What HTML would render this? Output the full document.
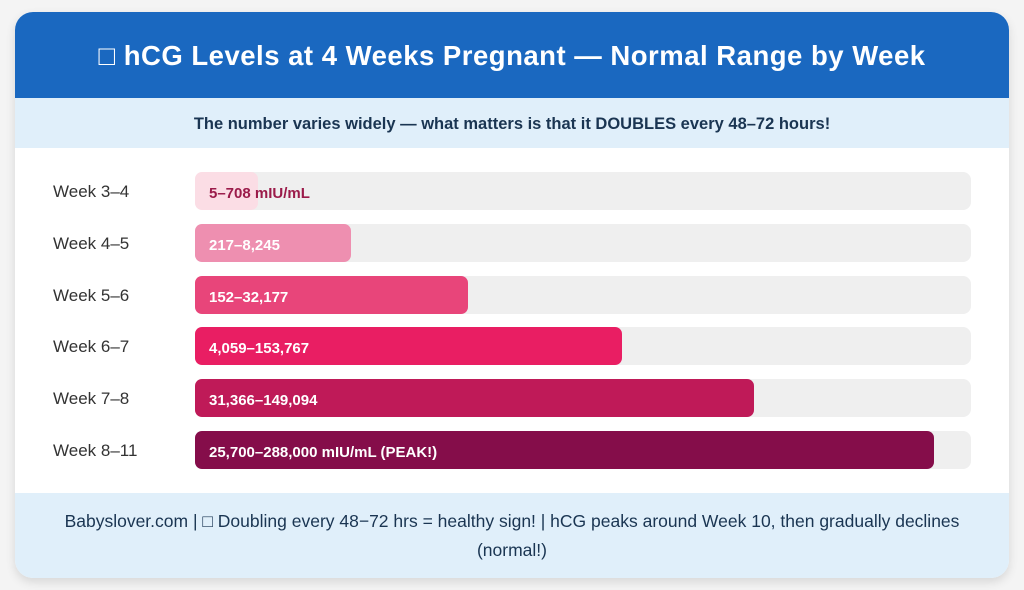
<!DOCTYPE html>
<html><head><meta charset="utf-8"><style>
body{margin:0;width:1024px;height:590px;background:#f4f4f4;font-family:"Liberation Sans",sans-serif;overflow:hidden}
#card{position:absolute;left:15px;top:12px;width:994px;height:566px;background:#fff;border-radius:18px;overflow:hidden;box-shadow:0 4px 10px rgba(0,0,0,.12)}
#hdr{position:absolute;left:0;top:0;width:994px;height:86px;background:#1a68c0;color:#fff;font-weight:bold;font-size:27.5px;text-align:center;line-height:88px;letter-spacing:0.5px}
#sub{position:absolute;left:0;top:86px;width:994px;height:50px;background:#e0effa;color:#1a3552;font-weight:bold;font-size:16.5px;text-align:center;line-height:52px}
#ftr{position:absolute;left:0;top:481px;width:994px;height:85px;background:#e0effa;color:#1a3552;font-size:17.5px;text-align:center;line-height:29px;padding-top:14px;box-sizing:border-box;white-space:nowrap}
.lbl{position:absolute;left:38px;font-size:17px;color:#333;line-height:38px}
.trk{position:absolute;left:180px;width:776px;height:38px;background:#efefef;border-radius:8px}
.bar{position:absolute;left:0;top:0;height:38px;border-radius:7px}
.val{position:absolute;left:194px;font-size:15px;font-weight:bold;color:#fff;line-height:38px;white-space:nowrap}
</style></head><body>
<div id="card">
<div id="hdr">□ hCG Levels at 4 Weeks Pregnant — Normal Range by Week</div>
<div id="sub">The number varies widely — what matters is that it DOUBLES every 48–72 hours!</div>
<div id="rows"></div>
<div id="ftr">Babyslover.com | □ Doubling every 48−72 hrs = healthy sign! | hCG peaks around Week 10, then gradually declines<br>(normal!)</div>
</div>
<script>
const categories=["Week 3–4","Week 4–5","Week 5–6","Week 6–7","Week 7–8","Week 8–11"];
const widths=[8.1,20.1,35.2,55,72,95.2];
const valueLabels=["5–708 mIU/mL","217–8,245","152–32,177","4,059–153,767","31,366–149,094","25,700–288,000 mIU/mL (PEAK!)"];
const colors=["#fbdde5","#ee8fb0","#e8457a","#e91e63","#bf1a58","#850d4a"];
const rows=document.getElementById('rows');
const trackW=776,top0=160,step=51.8;
function x(p){return p/100*trackW;}
categories.forEach((c,i)=>{
  const cy=top0+i*step;
  const l=document.createElement('div');l.className='lbl';l.style.top=(cy+1)+'px';l.textContent=c;
  
  
  rows.appendChild(l);
  const t=document.createElement('div');t.className='trk';t.style.top=cy+'px';
  
  
  const b=document.createElement('div');b.className='bar';b.style.width=x(widths[i])+'px';b.style.background=colors[i];
  
  
  t.appendChild(b);rows.appendChild(t);
  const v=document.createElement('div');v.className='val';v.style.top=(cy+3)+'px';v.textContent=valueLabels[i];
  if(i===0)v.style.color='#9b1b4a';
  
  
  rows.appendChild(v);
});
</script>
</body></html>
